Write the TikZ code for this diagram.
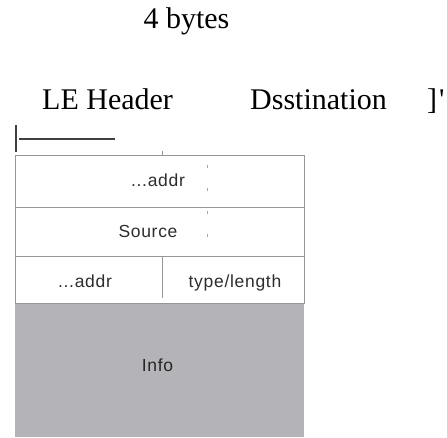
\documentclass[tikz,border=0pt]{standalone}
\usepackage{fontspec}
\setmainfont{Liberation Serif}
\newfontfamily\tabfont[LetterSpace=4]{Liberation Sans}
\definecolor{infogray}{RGB}{180,180,184}
\definecolor{rulegray}{RGB}{150,150,150}
\definecolor{tabtext}{RGB}{45,45,45}
\tikzset{
  bigtext/.style={font=\fontsize{30}{36}\selectfont, inner sep=0pt, anchor=base west},
  celltext/.style={font=\tabfont\fontsize{17.5}{21}\selectfont, text=tabtext, inner sep=0pt, anchor=base},
  cellrule/.style={draw=rulegray, line width=0.8pt},
  marker/.style={draw=black!75, line width=1.2pt},
  noise/.style={draw=black!35, line width=0.7pt, dash pattern=on 3pt off 20pt}
}
\begin{document}
\begin{tikzpicture}[x=1pt,y=-1pt]
\useasboundingbox (0,0) rectangle (447,437);
% headings
\node[bigtext, anchor=base] (bytes) at (186.5,28) {4 bytes};
\node[bigtext] (hdr) at (42,109) {LE Header};
\node[bigtext] (dst) at (250,109) {Dsstination};
\node[bigtext] (brk) at (427,109) {]};
\node[bigtext] (quo) at (439,109) {\textquotesingle};
% marker
\coordinate (m1) at (16,125);
\coordinate (m2) at (16,152);
\coordinate (m3) at (19,139);
\coordinate (m4) at (115,139);
\draw[marker] (m1) -- (m2);
\draw[marker] (m3) -- (m4);
% info area
\fill[infogray] (15,303) rectangle (304,437);
% table rows
\draw[cellrule] (15,155) rectangle (304,303);
\draw[cellrule] (15,207) -- (304,207);
\draw[cellrule] (15,256) -- (304,256);
\draw[cellrule] (162,256) -- (162,298);
\draw[cellrule] (162,151) -- (162,155);
\draw[noise] (207,165) -- (207,250);
% labels
\node[celltext] (a1) at (158,186) {...addr};
\node[celltext] (src) at (148,237) {Source};
\node[celltext] (a2) at (85,287) {...addr};
\node[celltext] (tl) at (235,287) {type/length};
\node[celltext, text=black!85] (info) at (157.5,371) {Info};
\end{tikzpicture}
\end{document}
